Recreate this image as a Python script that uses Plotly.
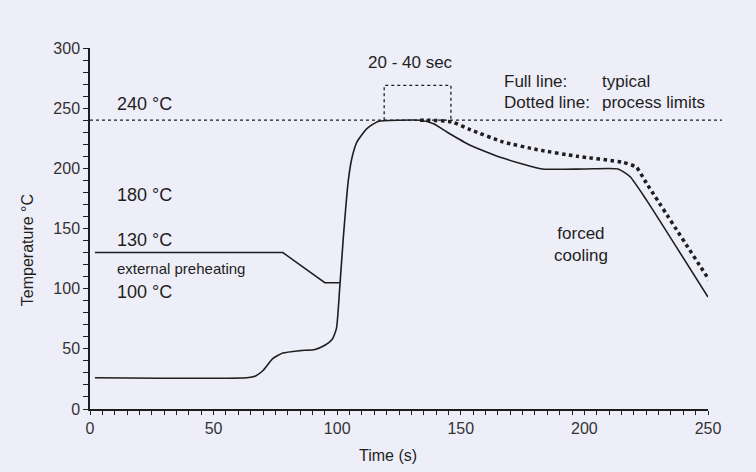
import plotly.graph_objects as go

# solid line: typical reflow profile
typ_time = [2, 63.5, 67, 70, 74, 78, 85, 91, 95, 98, 99.7, 101, 102.5, 104.5, 106, 108,
            112, 116.5, 125, 133.5, 139, 144.5, 154, 167, 183, 200, 213.6, 218.5, 225, 250]
typ_temp = [26, 26, 27.5, 32, 42, 46.5, 48.5, 49.5, 53, 58, 67, 100, 143, 190, 209, 222,
            233, 239, 240, 240, 237, 230, 219, 208.5, 199.5, 199.5, 199.5, 193, 174, 93]

# dotted line: process limits
lim_time = [133.5, 137.5, 146.5, 154, 167, 181, 197, 215.6, 221, 225, 251]
lim_temp = [240, 240, 238.5, 232, 222, 215.5, 210, 205, 201, 188, 105.5]

# external preheating
pre_time = [2, 78, 95, 101]
pre_temp = [130, 130, 105, 105]

# 20 - 40 sec bracket
brk_time = [119, 119, 146, 146]
brk_temp = [240, 269, 269, 240]

peak_temp = 240
x_ticks = [0, 50, 100, 150, 200, 250]
y_ticks = [0, 50, 100, 150, 200, 250, 300]

INK = "#1e1e1e"
BG = "#eeeef8"
FONT = "Liberation Sans, Arial, sans-serif"

fig = go.Figure()
fig.add_trace(go.Scatter(x=pre_time, y=pre_temp, mode="lines",
                         line=dict(color=INK, width=1.5), hoverinfo="skip"))
fig.add_trace(go.Scatter(x=typ_time, y=typ_temp, mode="lines",
                         line=dict(color=INK, width=1.6, shape="spline", smoothing=0.5)))
fig.add_trace(go.Scatter(x=lim_time, y=lim_temp, mode="lines",
                         line=dict(color=INK, width=3.5, dash="dot", shape="spline", smoothing=0.5)))
fig.add_trace(go.Scatter(x=brk_time, y=brk_temp, mode="lines",
                         line=dict(color=INK, width=1.3, dash="dot"), hoverinfo="skip"))

# 240 °C reference line, runs a bit past the axis end
fig.add_shape(type="line", xref="paper", yref="y", x0=0, x1=1.0227,
              y0=peak_temp, y1=peak_temp, line=dict(color=INK, width=1.3, dash="dot"))

def label(x, y, text, size=18, anchor="left"):
    fig.add_annotation(x=x, y=y, text=text, showarrow=False, xanchor=anchor,
                       yanchor="middle", font=dict(size=size, color=INK, family=FONT))

label(10.1, 253.5, "240 °C")
label(10.1, 178, "180 °C")
label(10.1, 140.5, "130 °C")
label(10.1, 117, "external preheating", size=15)
label(10.1, 97, "100 °C")
label(129.5, 288, "20 - 40 sec", size=17, anchor="center")
label(166.7, 272, "Full line:", size=17)
label(206.3, 272, "typical", size=17)
label(166.7, 254.3, "Dotted line:", size=17)
label(206.3, 254.3, "process limits", size=17)
label(187, 137, "forced<br>cooling", size=17)

# axis titles sit a little off centre in the original, so place them by hand
fig.add_annotation(xref="paper", yref="paper", x=0.482, y=0, yshift=-46,
                   text="Time (s)", showarrow=False, xanchor="center", yanchor="middle",
                   font=dict(size=16, color=INK))
fig.add_annotation(xref="paper", yref="paper", x=0, xshift=-63, y=0.44,
                   text="Temperature °C", textangle=-90, showarrow=False,
                   xanchor="center", yanchor="middle", font=dict(size=16, color=INK))

fig.update_layout(
    width=756, height=472,
    paper_bgcolor=BG, plot_bgcolor=BG,
    showlegend=False,
    margin=dict(l=90, r=48, t=48, b=63),
    font=dict(family=FONT, size=16, color=INK),
    xaxis=dict(
        range=[0, 250], tickvals=x_ticks, showgrid=False, zeroline=False, automargin=False,
        showline=True, linecolor=INK, linewidth=1.5,
        ticks="outside", ticklen=4, tickcolor=INK, tickwidth=1,
        minor=dict(dtick=5, ticks="outside", ticklen=4, tickcolor=INK, tickwidth=1),
        tickfont=dict(size=16, color="#333"),
    ),
    yaxis=dict(
        range=[0, 300], tickvals=y_ticks, showgrid=False, zeroline=False, automargin=False,
        showline=True, linecolor=INK, linewidth=1.5,
        ticks="outside", ticklen=5, tickcolor=INK, tickwidth=1,
        minor=dict(dtick=10, ticks="outside", ticklen=5, tickcolor=INK, tickwidth=1),
        tickfont=dict(size=16, color="#333"),
    ),
)

fig.write_html(
    "out.html",
    config={"displayModeBar": False},
    post_script="document.body.style.margin='0';document.body.style.background='#eeeef8';",
)
